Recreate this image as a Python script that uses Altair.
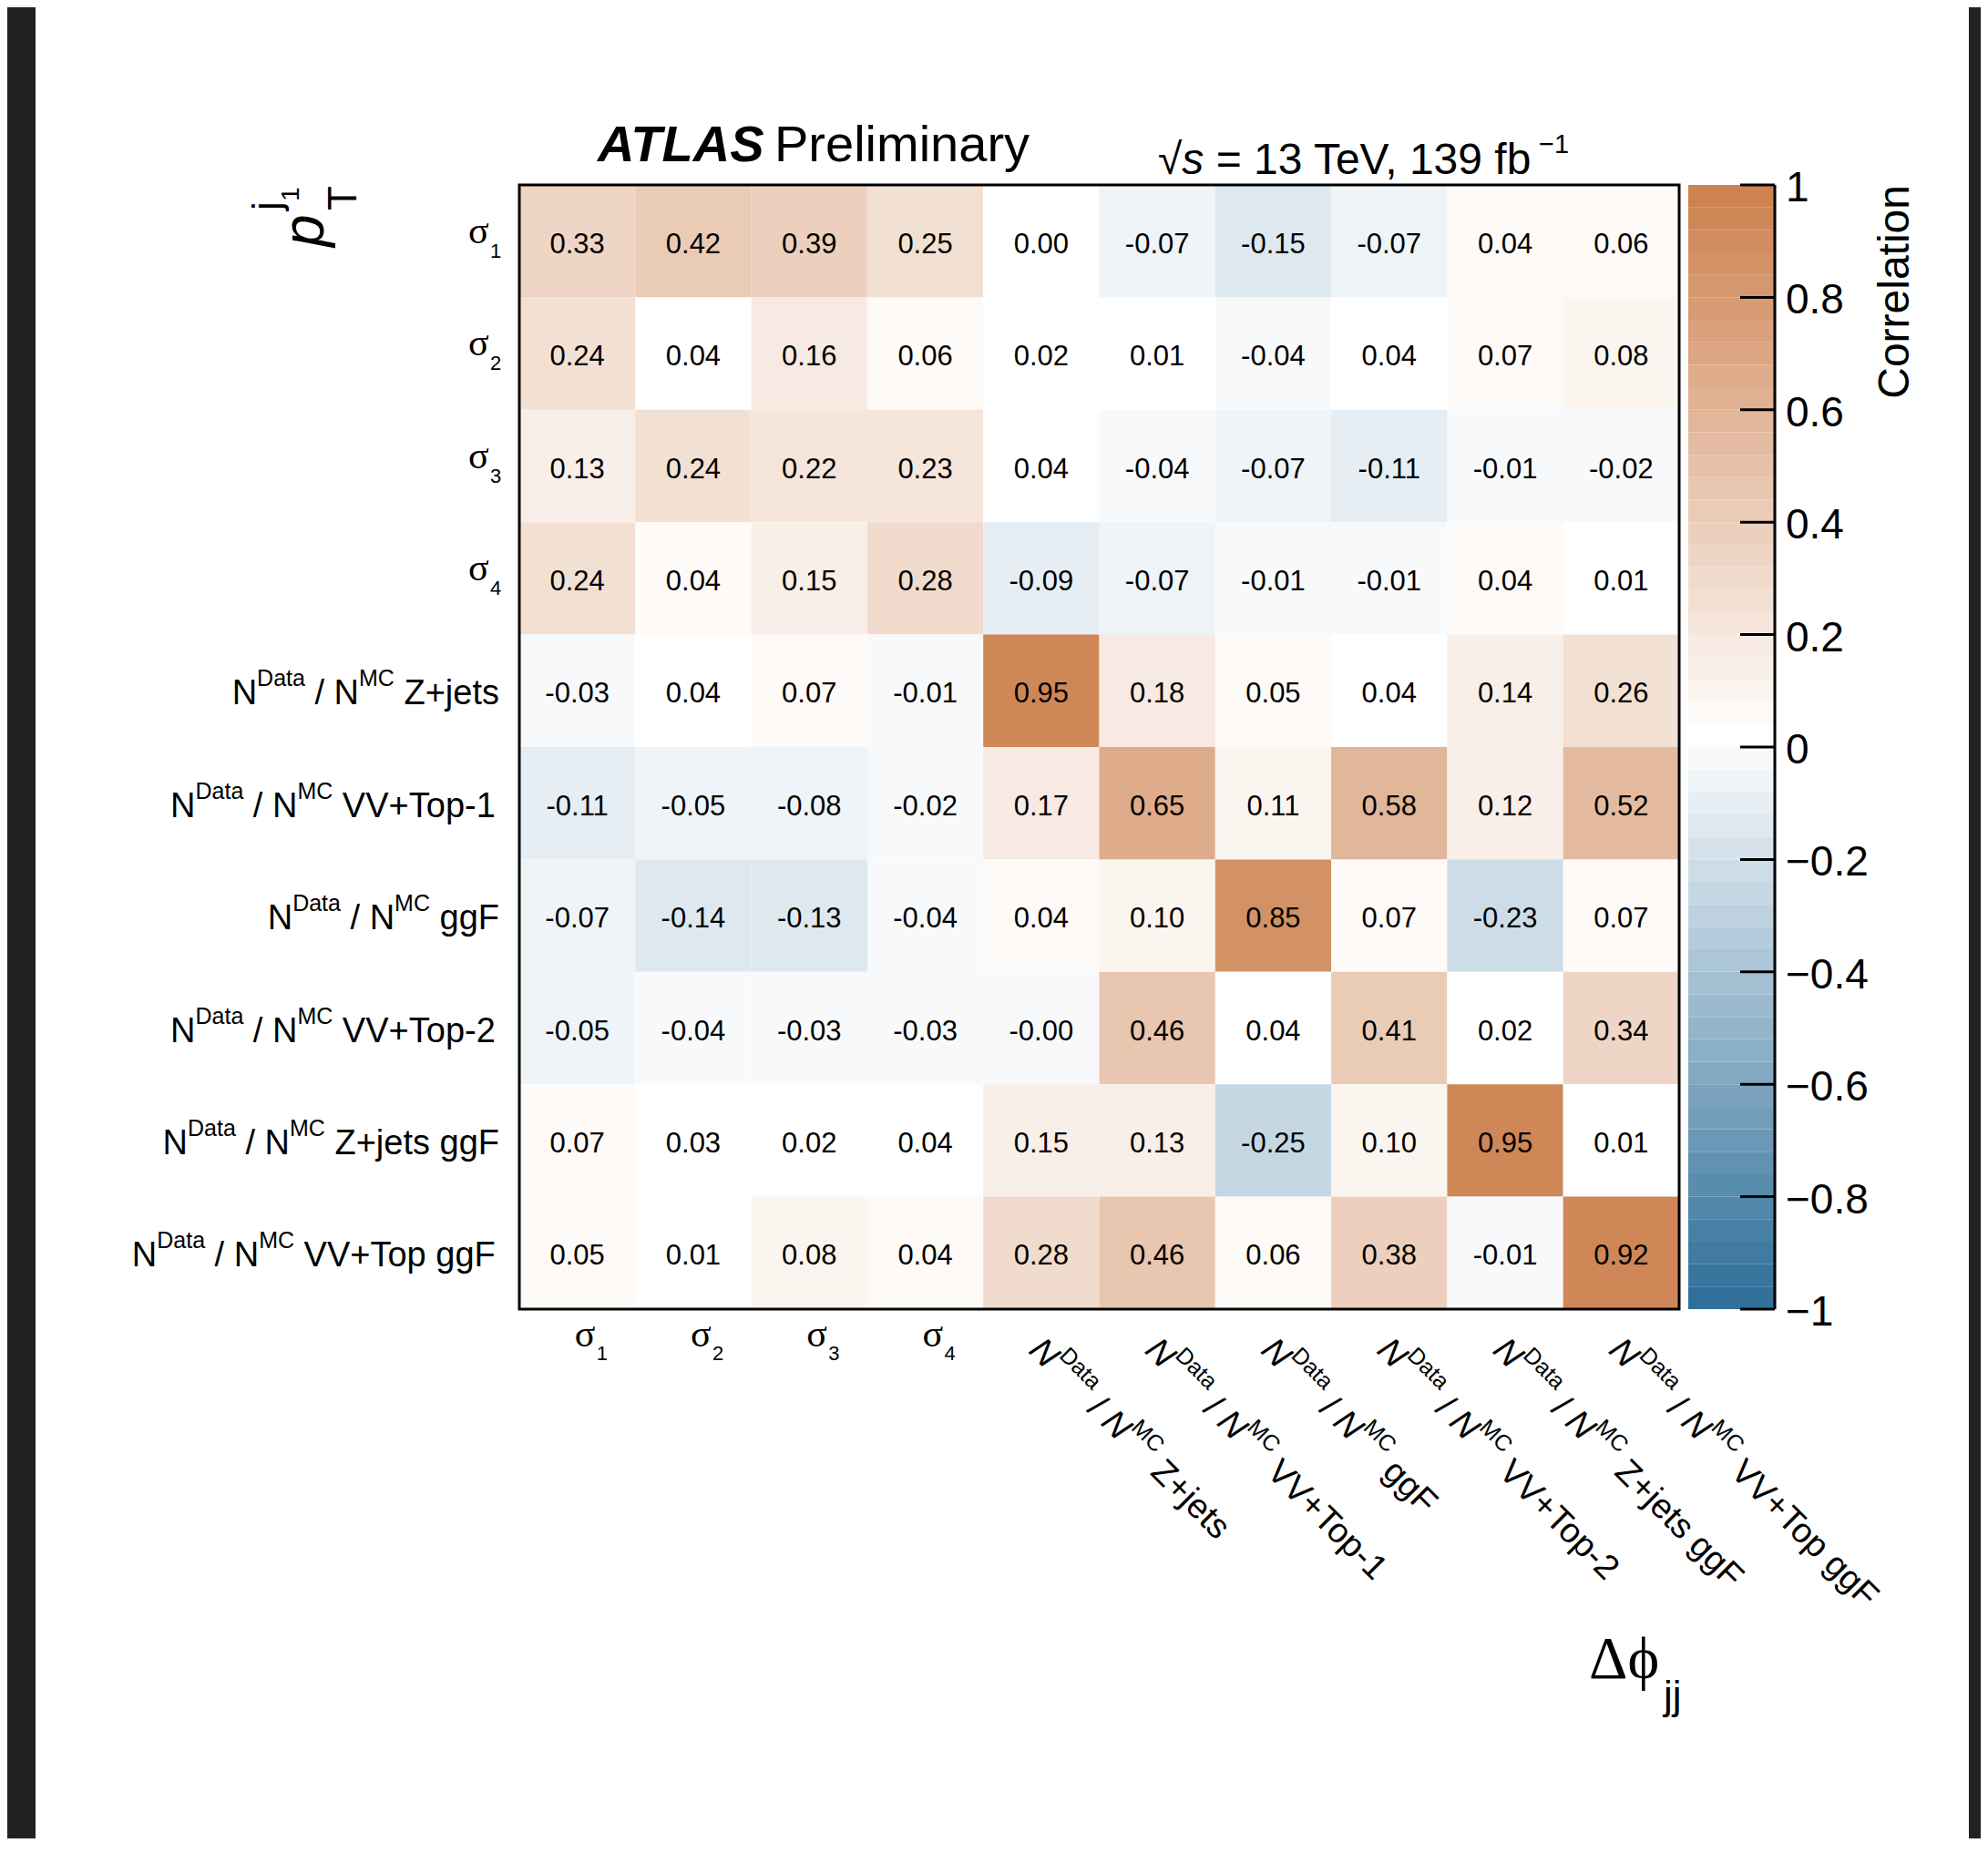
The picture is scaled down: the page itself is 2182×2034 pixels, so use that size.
import altair as alt
import pandas as pd

# ---------------- data ----------------
params = ["sigma1", "sigma2", "sigma3", "sigma4", "Z+jets", "VV+Top-1",
          "ggF", "VV+Top-2", "Z+jets ggF", "VV+Top ggF"]
sigma_index = {"sigma1": "1", "sigma2": "2", "sigma3": "3", "sigma4": "4"}

corr = [
    [0.33, 0.42, 0.39, 0.25, 0.00, -0.07, -0.15, -0.07, 0.04, 0.06],
    [0.24, 0.039, 0.16, 0.06, 0.02, 0.01, -0.04, 0.039, 0.07, 0.08],
    [0.13, 0.24, 0.22, 0.23, 0.039, -0.04, -0.07, -0.11, -0.01, -0.02],
    [0.24, 0.04, 0.15, 0.28, -0.09, -0.07, -0.01, -0.01, 0.04, 0.01],
    [-0.03, 0.039, 0.07, -0.01, 0.95, 0.18, 0.05, 0.039, 0.14, 0.26],
    [-0.11, -0.05, -0.08, -0.02, 0.17, 0.65, 0.11, 0.58, 0.12, 0.52],
    [-0.07, -0.14, -0.13, -0.04, 0.04, 0.10, 0.85, 0.07, -0.23, 0.07],
    [-0.05, -0.04, -0.03, -0.03, -0.001, 0.46, 0.039, 0.41, 0.02, 0.34],
    [0.07, 0.03, 0.02, 0.039, 0.15, 0.13, -0.25, 0.10, 0.95, 0.01],
    [0.05, 0.01, 0.08, 0.04, 0.28, 0.46, 0.06, 0.38, -0.01, 0.92],
]
cbar_ticks = [1, 0.8, 0.6, 0.4, 0.2, 0, -0.2, -0.4, -0.6, -0.8, -1]

# ---------------- styling / layout ----------------
W, H = 1273, 1234
FONT = "Liberation Sans"
SERIF = "Liberation Serif"
MAIN, SUP = 38, 25

AFM = {' ': 278, '/': 278, '+': 584, '-': 333, ',': 278, '=': 584,
       'N': 722, 'D': 722, 'a': 556, 't': 278, 'M': 833, 'C': 722, 'Z': 611,
       'j': 222, 'e': 556, 's': 500, 'V': 667, 'T': 611, 'o': 556, 'p': 556,
       'g': 556, 'F': 611, 'f': 278, 'b': 556, 'A': 722, 'L': 611, 'S': 667,
       '\u221a': 549, '\u2212': 584}


def tw(s, size):
    return sum(AFM.get(c, 556) for c in s) * size / 1000.0


def n_label_pieces(suffix):
    out, u = [], 0.0
    out.append(("N", "nmain", u)); u += tw("N", MAIN)
    out.append(("Data", "sup", u)); u += tw("Data", SUP) + tw(" ", MAIN)
    out.append(("/", "main", u)); u += tw("/ ", MAIN)
    out.append(("N", "nmain", u)); u += tw("N", MAIN)
    out.append(("MC", "sup", u)); u += tw("MC", SUP) + tw(" ", MAIN)
    out.append((suffix, "main", u)); u += tw(suffix, MAIN)
    return out, u


def mix(c, t):
    return "#%02x%02x%02x" % tuple(int(round(255 + t * (ci - 255))) for ci in c)


BLUE = (48, 112, 154)
ORANGE = (205, 130, 80)
palette = [mix(BLUE, (25 - k) / 25) if k < 25 else mix(ORANGE, (k - 25) / 24)
           for k in range(50)]
cscale = alt.Scale(type="quantize", domain=[-1, 1], range=palette, nice=False)

xs = alt.Scale(domain=params, paddingInner=0, paddingOuter=0)
ys = alt.Scale(domain=params, paddingInner=0, paddingOuter=0)

# ---------------- tables ----------------
heat = pd.DataFrame([
    {"row": params[i], "col": params[j], "v": corr[i][j],
     "label": f"{corr[i][j]:.2f}"}
    for i in range(len(params)) for j in range(len(params))
])

ylab = []
for p in params:
    if p in sigma_index:
        ylab.append(dict(row=p, text="\u03c3", kind="sym", px=-56))
        ylab.append(dict(row=p, text=sigma_index[p], kind="sub", px=-32))
    else:
        pcs, total = n_label_pieces(p)
        for t, k, u in pcs:
            ylab.append(dict(row=p, text=t, kind="main" if k == "nmain" else k,
                             px=-22 - total + u))
ylab = pd.DataFrame(ylab)

one = pd.DataFrame({"k": [0]})

# ---------------- heat group ----------------
cells = alt.Chart(heat).mark_rect().encode(
    x=alt.X("col:N", scale=xs, axis=None),
    y=alt.Y("row:N", scale=ys, axis=None),
    color=alt.Color("v:Q", scale=cscale, legend=None),
)
cell_text = alt.Chart(heat).mark_text(
    font=FONT, fontSize=31, baseline="alphabetic", dy=13, color="black"
).encode(
    x=alt.X("col:N", scale=xs, axis=None),
    y=alt.Y("row:N", scale=ys, axis=None),
    text="label:N",
)

heat_layers = [cells, cell_text]

ystyles = {
    "main": dict(fontSize=MAIN, dy=15, font=FONT),
    "sup": dict(fontSize=SUP, dy=-5, font=FONT),
    "sym": dict(fontSize=42, dy=2, font=SERIF),
    "sub": dict(fontSize=22, dy=18, font=FONT),
}
for kind, st in ystyles.items():
    heat_layers.append(
        alt.Chart(ylab[ylab["kind"] == kind]).mark_text(
            align="left", baseline="alphabetic", color="black", **st
        ).encode(
            x=alt.X("px:Q", scale=None, axis=None),
            y=alt.Y("row:N", scale=ys, axis=None),
            text="text:N",
        )
    )

# rotated x labels
Ax, Bx = 22.6, 43.8
n_cols = [p for p in params if p not in sigma_index]
pcs0, _ = n_label_pieces("X")
for j, (t, k, u) in enumerate(pcs0):
    df = pd.DataFrame({"col": n_cols,
                       "text": [n_label_pieces(c)[0][j][0] for c in n_cols]})
    size = SUP if k == "sup" else MAIN
    dy = Bx - 20 if k == "sup" else Bx
    style = "italic" if k == "nmain" else "normal"
    heat_layers.append(
        alt.Chart(df).mark_text(
            angle=45, align="left", baseline="alphabetic", dx=Ax + u, dy=dy,
            fontSize=size, fontStyle=style, font=FONT, color="black"
        ).encode(
            x=alt.X("col:N", scale=xs, axis=None),
            y=alt.value(H),
            text="text:N",
        )
    )

sig_cols = [p for p in params if p in sigma_index]
sig_df = pd.DataFrame({"col": sig_cols, "sym": ["\u03c3"] * len(sig_cols),
                       "sub": [sigma_index[c] for c in sig_cols]})
heat_layers.append(
    alt.Chart(sig_df).mark_text(align="left", baseline="alphabetic", dx=-3, dy=41,
                                fontSize=42, font=SERIF, color="black").encode(
        x=alt.X("col:N", scale=xs, axis=None), y=alt.value(H), text="sym:N"))
heat_layers.append(
    alt.Chart(sig_df).mark_text(align="left", baseline="alphabetic", dx=21, dy=56,
                                fontSize=22, font=FONT, color="black").encode(
        x=alt.X("col:N", scale=xs, axis=None), y=alt.value(H), text="sub:N"))

frame = alt.Chart(one).mark_rect(fillOpacity=0, stroke="black", strokeWidth=3).encode(
    x=alt.value(0), x2=alt.value(W), y=alt.value(0), y2=alt.value(H))
heat_layers.append(frame)

heat_group = alt.layer(*heat_layers)

# ---------------- colour bar group ----------------
bands = pd.DataFrame({"lo": [-1 + 0.04 * k for k in range(50)]})
bands["hi"] = bands["lo"] + 0.04
bands["mid"] = bands["lo"] + 0.02
ticks = pd.DataFrame({"t": cbar_ticks})
cy = alt.Scale(domain=[-1, 1], nice=False, zero=False)

cb_rect = alt.Chart(bands).mark_rect().encode(
    x=alt.value(1283), x2=alt.value(1378),
    y=alt.Y("lo:Q", scale=cy, axis=None), y2="hi:Q",
    color=alt.Color("mid:Q", scale=cscale, legend=None),
)
cb_ticks = alt.Chart(ticks).mark_rule(color="black", strokeWidth=3).encode(
    x=alt.value(1340), x2=alt.value(1378),
    y=alt.Y("t:Q", scale=cy, axis=None),
)
cb_axis = alt.Chart(one).mark_rule(color="black", strokeWidth=3).encode(
    x=alt.value(1378), y=alt.value(0), y2=alt.value(H))
cb_labels = alt.Chart(ticks).mark_text(
    align="left", baseline="alphabetic", dy=18, fontSize=46, font=FONT, color="black"
).encode(
    x=alt.value(1390),
    y=alt.Y("t:Q", scale=cy, axis=None),
    text=alt.Text("t:Q", format="~g"),
)
cb_title = alt.Chart(one).mark_text(
    text="Correlation", angle=270, align="right", baseline="alphabetic",
    fontSize=48, font=FONT, color="black"
).encode(x=alt.value(1525), y=alt.value(0))

cbar_group = alt.layer(cb_rect, cb_ticks, cb_axis, cb_labels, cb_title)


# ---------------- decorations / titles ----------------
def txt(text, x, y, size, **kw):
    opts = dict(text=text, align="left", baseline="alphabetic", fontSize=size,
                color="black")
    opts.setdefault("font", FONT)
    opts.update(kw)
    return alt.Chart(one).mark_text(**opts).encode(x=alt.value(x), y=alt.value(y))


bg = alt.Chart(one).mark_rect(color="white").encode(
    x=alt.value(-531), x2=alt.value(1591), y=alt.value(-195), y2=alt.value(1815))

ES = 48
sx = 701
s1 = sx + tw("\u221a", ES)
s2 = s1 + tw("s", ES) + tw(" ", ES)
s3 = s2 + tw("= 13 TeV, 139 fb", ES)

decos = [
    txt("ATLAS", 86, -26, 56, fontWeight="bold", fontStyle="italic"),
    txt("Preliminary", 280, -26, 56),
    txt("\u221a", sx, -12, ES),
    txt("s", s1, -12, ES, fontStyle="italic"),
    txt("= 13 TeV, 139 fb", s2, -12, ES),
    txt("\u22121", s3 - 2, -35, 29),
    txt("\u0394\u03d5", 1174, 1639, 66, font=SERIF),
    txt("jj", 1256, 1673, 44),
    txt("p", -215, 68, 64, fontStyle="italic", angle=270),
    txt("T", -179, 28, 44, angle=270),
    txt("j", -262, 28, 44, angle=270),
    txt("1", -242, 18, 28, angle=270),
]

chart = alt.layer(bg, heat_group, cbar_group, *decos).resolve_scale(
    y="independent", color="shared"
).properties(
    width=W, height=H,
    padding={"left": 562, "top": 195, "right": 331, "bottom": 581},
    autosize=alt.AutoSizeParams(type="none"),
    background="#222222",
).configure_view(strokeWidth=0)

chart.save("out.html", embed_options={"renderer": "svg", "actions": False})
